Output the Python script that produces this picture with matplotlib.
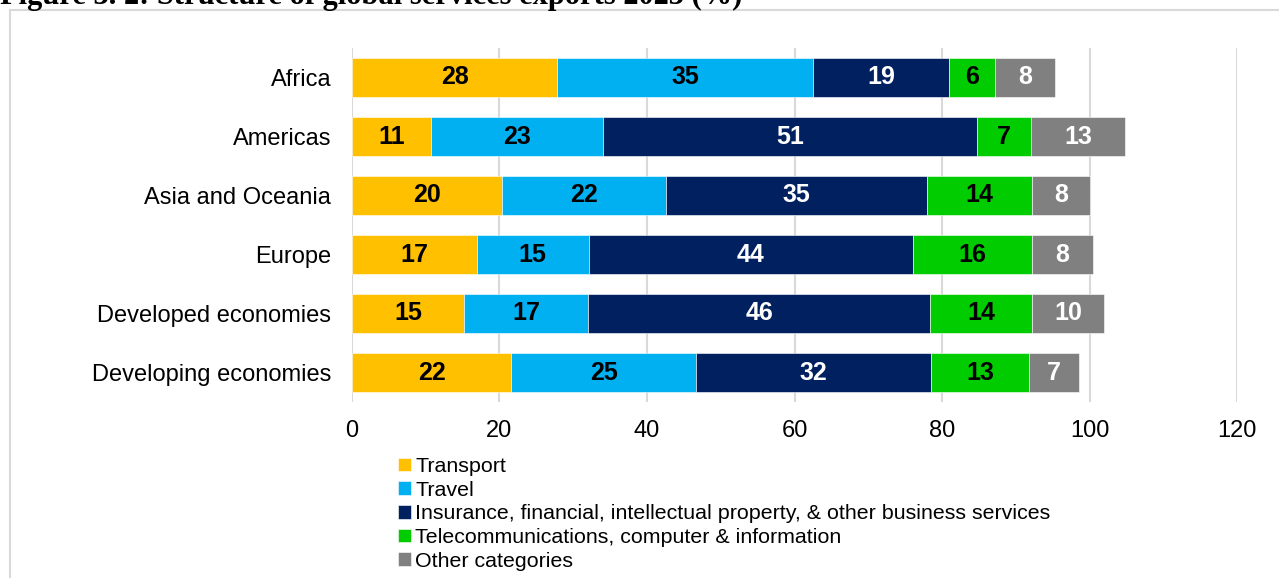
import matplotlib
matplotlib.use("Agg")
import matplotlib.pyplot as plt
from matplotlib.patches import Rectangle

plt.rcParams["font.family"] = ["Liberation Sans", "DejaVu Sans"]

regions = ["Africa", "Americas", "Asia and Oceania", "Europe",
           "Developed economies", "Developing economies"]
series = [
    "Transport",
    "Travel",
    "Insurance, financial, intellectual property, & other business services",
    "Telecommunications, computer & information",
    "Other categories",
]
transport = [27.8, 10.7, 20.4, 16.9, 15.2, 21.6]
travel = [34.7, 23.4, 22.2, 15.2, 16.8, 25.1]
insurance = [18.5, 50.6, 35.3, 44.0, 46.4, 31.8]
telecom = [6.2, 7.4, 14.3, 16.1, 13.8, 13.3]
other = [8.1, 12.7, 7.8, 8.3, 9.8, 6.8]
labels = [
    [28, 11, 20, 17, 15, 22],
    [35, 23, 22, 15, 17, 25],
    [19, 51, 35, 44, 46, 32],
    [6, 7, 14, 16, 14, 13],
    [8, 13, 8, 8, 10, 7],
]
colors = ["#FFC000", "#00B0F0", "#002060", "#00CC00", "#808080"]
text_colors = ["black", "black", "white", "black", "white"]

W, H = 1279, 578
fig = plt.figure(figsize=(W / 100, H / 100), dpi=100)
ax = fig.add_axes([352 / W, (H - 402) / H, (1237 - 352) / W, 354 / H])

# outer frame of the figure box, cut by the page edges
fig.patches.append(Rectangle((9.5 / W, -0.1), 1.2, 1 - 10.5 / H + 0.1,
                             transform=fig.transFigure, fill=False,
                             edgecolor="#D9D9D9", linewidth=1.5))
fig.text(0.0, 1 - 4 / H, "Figure 3. 2: Structure of global services exports 2023 (%)",
         family="Liberation Serif", fontweight="bold", fontsize=22,
         va="baseline", ha="left")

ypos = list(range(len(regions)))
left = [0.0] * len(regions)
for vals, name, col, tc, lab in zip([transport, travel, insurance, telecom, other],
                                    series, colors, text_colors, labels):
    bars = ax.barh(ypos, vals, left=left, height=0.66, color=col, label=name,
                   edgecolor="white", linewidth=0.4, zorder=3)
    ax.bar_label(bars, labels=[str(v) for v in lab], label_type="center",
                 color=tc, fontsize=18, fontweight="bold")
    left = [a + b for a, b in zip(left, vals)]

ax.set_ylim(len(regions) - 0.5, -0.5)
ax.set_xlim(0, 120)
ax.set_xticks(range(0, 121, 20))
ax.set_yticks(ypos)
ax.set_yticklabels(regions, fontsize=17)
ax.tick_params(axis="x", labelsize=17, length=0, pad=13)
ax.tick_params(axis="y", length=0, pad=15)
ax.xaxis.grid(True, color="#D9D9D9", linewidth=1.5, zorder=0)
ax.set_axisbelow(True)
for s in ax.spines.values():
    s.set_visible(False)

leg = ax.legend(loc="upper left", bbox_to_anchor=(398 / W, (H - 457) / H),
                bbox_transform=fig.transFigure, frameon=False, fontsize=15.4,
                handlelength=0.6, handleheight=0.6, handletextpad=0.2,
                labelspacing=0.22, borderpad=0, borderaxespad=0)

fig.savefig("out.png", dpi=100)
